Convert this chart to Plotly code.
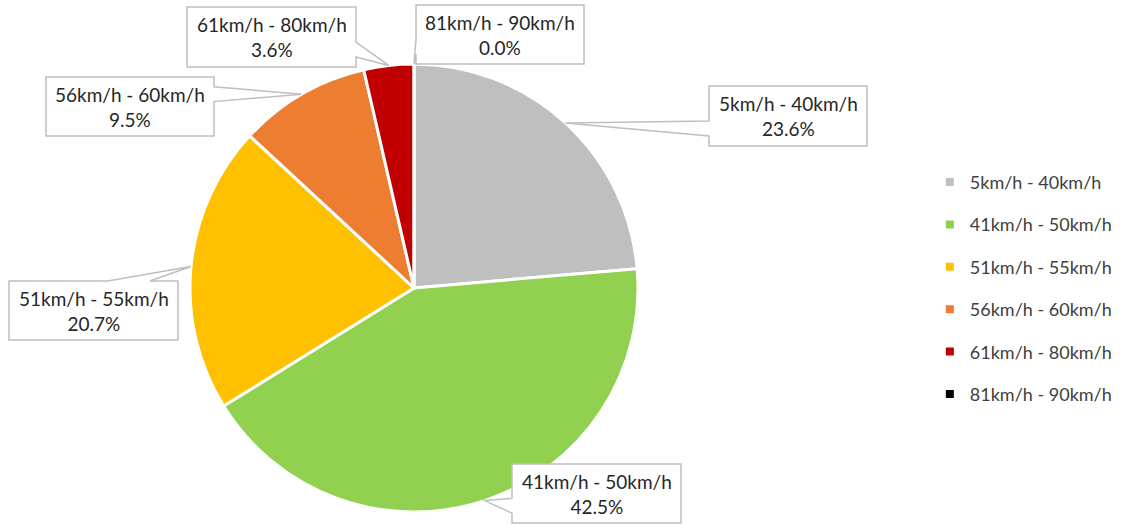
import math
import plotly.graph_objects as go

categories = ["5km/h - 40km/h", "41km/h - 50km/h", "51km/h - 55km/h",
              "56km/h - 60km/h", "61km/h - 80km/h", "81km/h - 90km/h"]
values = [23.6, 42.5, 20.7, 9.5, 3.6, 0.0]
colors = ["#BFBFBF", "#92D050", "#FFC000", "#ED7D31", "#C00000", "#000000"]

# label box rectangles (pixels x0, y0, x1, y1) - layout only
label_boxes = [(709, 86, 867, 146), (512, 464, 681, 523), (9, 281, 178, 340),
               (46, 77, 214, 136), (187, 7, 356, 67), (416, 5, 584, 64)]

W, H = 1123, 525
CX, CY, R = 414, 288, 224
FONT = "Lato, 'Open Sans', sans-serif"


def px(x, y):
    return x / W, 1 - y / H


def callout_path(x0, y0, x1, y1, tx, ty):
    cx, cy = (x0 + x1) / 2, (y0 + y1) / 2
    w, h = x1 - x0, y1 - y0
    dx, dy = tx - cx, ty - cy
    TL, TR, BR, BL = (x0, y0), (x1, y0), (x1, y1), (x0, y1)
    if abs(dx) / w > abs(dy) / h:
        ya, yb = (y0 + h * 7 / 12, y0 + h * 10 / 12) if dy > 0 else (y0 + h * 2 / 12, y0 + h * 5 / 12)
        if dx < 0:
            pts = [TL, TR, BR, BL, (x0, yb), (tx, ty), (x0, ya)]
        else:
            pts = [TL, TR, (x1, ya), (tx, ty), (x1, yb), BR, BL]
    else:
        xa, xb = (x0 + w * 7 / 12, x0 + w * 10 / 12) if dx > 0 else (x0 + w * 2 / 12, x0 + w * 5 / 12)
        if dy < 0:
            pts = [TL, (xa, y0), (tx, ty), (xb, y0), TR, BR, BL]
        else:
            pts = [TL, TR, BR, (xb, y1), (tx, ty), (xa, y1), BL]
    s = ""
    for i, (x, y) in enumerate(pts):
        u, v = px(x, y)
        s += ("M" if i == 0 else " L") + f" {u:.5f},{v:.5f}"
    return s + " Z"


fig = go.Figure()
fig.add_trace(go.Pie(
    labels=categories, values=values, sort=False, direction="clockwise", rotation=0,
    marker=dict(colors=colors, line=dict(color="white", width=3)),
    textinfo="none", hoverinfo="label+percent", showlegend=False,
    domain=dict(x=[(CX - R) / W, (CX + R) / W], y=[1 - (CY + R) / H, 1 - (CY - R) / H]),
))

for cat, col in zip(categories, colors):
    fig.add_trace(go.Scatter(
        x=[None], y=[None], mode="markers", name=cat, legendgroup=cat,
        marker=dict(symbol="square", size=8, color=col),
    ))

total = sum(values)
cum = 0.0
for cat, v, box in zip(categories, values, label_boxes):
    mid = (cum + v / 2) / total * 2 * math.pi
    cum += v
    tx = CX + R * math.sin(mid)
    ty = CY - R * math.cos(mid)
    x0, y0, x1, y1 = box
    fig.add_shape(type="path", path=callout_path(x0, y0, x1, y1, tx, ty),
                  xref="paper", yref="paper", fillcolor="white",
                  line=dict(color="#BFBFBF", width=1.5), layer="above")
    u, w_ = px((x0 + x1) / 2, (y0 + y1) / 2)
    fig.add_annotation(
        x=u, y=w_, xref="paper", yref="paper", xanchor="center", yanchor="middle",
        text=f"{cat}<br>{v:.1f}%", showarrow=False,
        font=dict(family=FONT, size=19, color="#262626"), align="center",
    )

fig.update_layout(
    width=W, height=H, margin=dict(l=0, r=0, t=0, b=0),
    paper_bgcolor="white", plot_bgcolor="white",
    xaxis=dict(visible=False), yaxis=dict(visible=False),
    legend=dict(x=0.828, y=0.688, xanchor="left", yanchor="top",
                font=dict(family=FONT, size=18, color="#404040"),
                tracegroupgap=16, itemwidth=30, bgcolor="rgba(0,0,0,0)"),
    font=dict(family=FONT),
)

fig.write_html("out.html", config={"displayModeBar": False},
               post_script="document.body.style.margin='0';")
